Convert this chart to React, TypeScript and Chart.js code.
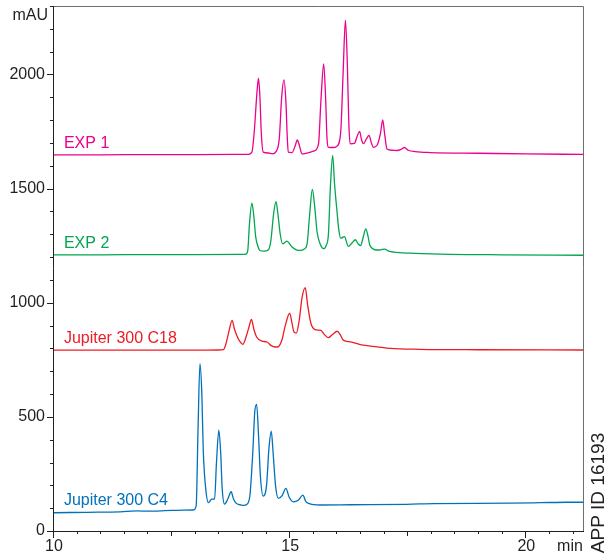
import React, { useEffect, useRef } from "react";
import { Chart, registerables } from "chart.js";

Chart.register(...registerables);

// ---- axis ticks ----
const xTickValues = [10, 15, 20];
const xTickLabels = ["10", "15", "20"];
const yTickValues = [0, 500, 1000, 1500, 2000];
const yTickLabels = ["0", "500", "1000", "1500", "2000"];
const xUnit = "min";
const yUnit = "mAU";
const sideNote = "APP ID 16193";

// ---- traces ----
const traceNames = ["EXP 1", "EXP 2", "Jupiter 300 C18", "Jupiter 300 C4"];
const traceColors = ["#ec008c", "#00a651", "#ed1c24", "#0072bc"];

const exp1Times = [10, 11, 12, 13, 14.11, 14.19, 14.24, 14.3, 14.33, 14.36, 14.39, 14.43, 14.54, 14.62, 14.7, 14.77, 14.82, 14.87, 14.91, 14.94, 14.96, 15.04, 15.11, 15.15, 15.2, 15.25, 15.32, 15.42, 15.51, 15.6, 15.65, 15.71, 15.75, 15.78, 15.81, 15.91, 15.99, 16.07, 16.12, 16.17, 16.21, 16.24, 16.27, 16.36, 16.42, 16.47, 16.51, 16.55, 16.62, 16.67, 16.72, 16.76, 16.84, 16.91, 16.96, 17.0, 17.05, 17.16, 17.26, 17.35, 17.42, 17.5, 17.65, 17.97, 19, 20, 21.2];
const exp1Values = [1648, 1648, 1649, 1649, 1650, 1660, 1750, 1930, 1984, 1900, 1740, 1660, 1656, 1652, 1662, 1720, 1900, 1976, 1880, 1720, 1660, 1658, 1690, 1713, 1685, 1652, 1654, 1659, 1665, 1696, 1880, 2046, 1900, 1720, 1681, 1680, 1686, 1747, 2000, 2238, 2050, 1800, 1696, 1698, 1730, 1751, 1715, 1697, 1720, 1733, 1700, 1681, 1690, 1740, 1801, 1740, 1674, 1668, 1667, 1672, 1680, 1668, 1662, 1658, 1655, 1652, 1650];

const exp2Times = [10, 11, 12, 13, 14.05, 14.1, 14.14, 14.19, 14.23, 14.27, 14.32, 14.36, 14.44, 14.54, 14.59, 14.65, 14.7, 14.74, 14.79, 14.84, 14.93, 15.04, 15.13, 15.21, 15.3, 15.36, 15.41, 15.47, 15.52, 15.57, 15.64, 15.71, 15.76, 15.81, 15.85, 15.9, 15.94, 15.99, 16.03, 16.07, 16.15, 16.23, 16.31, 16.38, 16.44, 16.49, 16.55, 16.6, 16.65, 16.69, 16.84, 16.92, 17.0, 17.09, 17.19, 17.54, 18.18, 19.5, 21.2];
const exp2Values = [1210, 1210, 1211, 1211, 1212, 1225, 1350, 1436, 1380, 1290, 1245, 1229, 1226, 1232, 1270, 1390, 1443, 1390, 1300, 1258, 1270, 1244, 1232, 1229, 1235, 1260, 1380, 1496, 1420, 1310, 1255, 1237, 1250, 1300, 1500, 1645, 1520, 1404, 1320, 1283, 1290, 1247, 1262, 1276, 1258, 1250, 1290, 1324, 1290, 1250, 1231, 1232, 1235, 1226, 1222, 1217, 1213, 1210, 1208];

const c18Times = [10, 11, 12, 13, 13.47, 13.59, 13.64, 13.71, 13.77, 13.82, 13.87, 13.93, 14.0, 14.08, 14.13, 14.18, 14.23, 14.29, 14.4, 14.51, 14.6, 14.68, 14.75, 14.83, 14.89, 14.99, 15.04, 15.08, 15.13, 15.19, 15.25, 15.32, 15.37, 15.44, 15.53, 15.59, 15.65, 15.73, 15.81, 15.89, 16.0, 16.06, 16.13, 16.27, 16.4, 16.55, 16.84, 17.12, 17.75, 19, 21.2];
const c18Values = [792, 792, 792, 792, 793, 795, 820, 880, 923, 885, 857, 832, 818, 860, 895, 927, 885, 850, 832, 828, 812, 806, 808, 840, 894, 954, 910, 872, 867, 920, 1020, 1066, 990, 909, 882, 880, 879, 860, 847, 860, 875, 860, 835, 829, 822, 814, 807, 800, 796, 794, 793];

const c4Times = [10, 10.7, 11.4, 11.75, 12.03, 12.5, 12.95, 13.01, 13.05, 13.09, 13.13, 13.16, 13.21, 13.27, 13.34, 13.4, 13.44, 13.49, 13.53, 13.56, 13.61, 13.68, 13.75, 13.8, 13.86, 13.94, 14.01, 14.09, 14.15, 14.21, 14.25, 14.29, 14.33, 14.37, 14.43, 14.5, 14.55, 14.6, 14.64, 14.69, 14.75, 14.83, 14.91, 14.98, 15.07, 15.17, 15.27, 15.33, 15.39, 15.64, 16.27, 17.47, 18.03, 19.66, 20.3, 20.86, 21.2];
const c4Values = [80, 82, 84, 88, 87, 90, 92, 110, 450, 733, 600, 354, 190, 124, 140, 140, 300, 442, 340, 190, 118, 140, 172, 140, 121, 115, 112, 118, 160, 350, 520, 555, 420, 240, 153, 200, 360, 437, 340, 200, 143, 155, 187, 148, 128, 135, 157, 130, 121, 114, 115, 117, 120, 122, 124, 126, 126];

const traceTimes = [exp1Times, exp2Times, c18Times, c4Times];
const traceValues = [exp1Values, exp2Values, c18Values, c4Values];

// ---- axis range ----
const xMin = 10;
const xMax = 21.2;
const yMin = 0;
const yMax = 2300;

const FONT = "'Liberation Sans', Arial, Helvetica, sans-serif";
const isMult = (v: number, m: number) => Math.abs(v / m - Math.round(v / m)) < 1e-6;

const decorPlugin = {
  id: "decor",
  afterDraw(chart: any) {
    const { ctx, chartArea, scales } = chart;
    const xs = scales.x;
    const ys = scales.y;
    const { left, right, top, bottom } = chartArea;
    ctx.save();
    // frame (top and right)
    ctx.strokeStyle = "#6d6e71";
    ctx.lineWidth = 1;
    ctx.beginPath();
    ctx.moveTo(left, top + 0.5);
    ctx.lineTo(right + 0.5, top + 0.5);
    ctx.lineTo(right + 0.5, bottom);
    ctx.stroke();
    // axis lines
    ctx.strokeStyle = "#231f20";
    ctx.beginPath();
    ctx.moveTo(left - 0.5, top);
    ctx.lineTo(left - 0.5, bottom + 0.5);
    ctx.lineTo(right + 1, bottom + 0.5);
    ctx.stroke();
    // tick marks
    ctx.beginPath();
    xs.ticks.forEach((t: any, i: number) => {
      const px = Math.round(xs.getPixelForTick(i)) - 0.5;
      const len = isMult(t.value, 5) ? 7 : isMult(t.value, 2.5) ? 5 : 3;
      ctx.moveTo(px, bottom);
      ctx.lineTo(px, bottom + len);
    });
    ys.ticks.forEach((t: any, i: number) => {
      const py = Math.round(ys.getPixelForTick(i)) + 0.5;
      const len = isMult(t.value, 500) ? 7 : 4;
      ctx.moveTo(left, py);
      ctx.lineTo(left - len, py);
    });
    ctx.stroke();
    // unit labels
    ctx.fillStyle = "#231f20";
    ctx.font = `16px ${FONT}`;
    ctx.textAlign = "right";
    ctx.textBaseline = "alphabetic";
    ctx.fillText(yUnit, left - 6, top + 14);
    ctx.textAlign = "center";
    ctx.fillText(xUnit, right - 13, bottom + 20);
    // trace labels
    const labelY = [1648, 1210, 792, 82];
    ctx.textAlign = "left";
    traceNames.forEach((name, i) => {
      const yBase = ys.getPixelForValue(labelY[i]);
      ctx.fillStyle = traceColors[i];
      ctx.fillText(name, xs.getPixelForValue(10.21), yBase - 7);
    });
    // side note
    ctx.fillStyle = "#231f20";
    ctx.font = `19px ${FONT}`;
    ctx.translate(right + 16, bottom - 38);
    ctx.rotate(-Math.PI / 2);
    ctx.textAlign = "center";
    ctx.textBaseline = "middle";
    ctx.fillText(sideNote, 0, 0);
    ctx.restore();
  },
};

export default function App() {
  const ref = useRef<HTMLCanvasElement>(null);
  useEffect(() => {
    const canvas = ref.current;
    if (!canvas) return;
    const datasets = traceNames.map((name, i) => ({
      label: name,
      data: traceTimes[i].map((t, j) => ({ x: t, y: traceValues[i][j] })),
      borderColor: traceColors[i],
      borderWidth: 1.3,
      pointRadius: 0,
      fill: false,
      cubicInterpolationMode: "monotone" as const,
    }));
    const chart = new Chart(canvas, {
      type: "line",
      data: { datasets },
      plugins: [decorPlugin],
      options: {
        animation: false,
        responsive: false,
        devicePixelRatio: 1,
        layout: { padding: { top: 6, right: 24, left: 0, bottom: 0 } },
        plugins: { legend: { display: false }, tooltip: { enabled: false } },
        scales: {
          x: {
            type: "linear",
            min: xMin,
            max: xMax,
            grid: { display: false, drawTicks: false },
            border: { display: false },
            afterFit: (s: any) => {
              s.height = 23;
              s.paddingLeft = 0;
              s.paddingRight = 0;
            },
            ticks: {
              stepSize: 0.5,
              includeBounds: false,
              autoSkip: false,
              maxRotation: 0,
              padding: 6,
              color: "#231f20",
              font: { family: FONT, size: 16 },
              callback: (v: any) => {
                const k = xTickValues.findIndex((x) => Math.abs(x - Number(v)) < 1e-6);
                return k >= 0 ? xTickLabels[k] : "";
              },
            },
          },
          y: {
            type: "linear",
            min: yMin,
            max: yMax,
            grid: { display: false, drawTicks: false },
            border: { display: false },
            afterFit: (s: any) => {
              s.width = 54;
              s.paddingTop = 0;
              s.paddingBottom = 0;
            },
            ticks: {
              stepSize: 100,
              includeBounds: false,
              autoSkip: false,
              padding: 9,
              color: "#231f20",
              font: { family: FONT, size: 16 },
              callback: (v: any) => {
                const k = yTickValues.findIndex((y) => Math.abs(y - Number(v)) < 1e-6);
                return k >= 0 ? yTickLabels[k] : "";
              },
            },
          },
        },
      },
    });
    return () => chart.destroy();
  }, []);
  return (
    <div style={{ position: "absolute", left: 0, top: 0, width: 607, height: 554, background: "#fff" }}>
      <canvas ref={ref} width={607} height={554} style={{ display: "block", width: 607, height: 554 }} />
    </div>
  );
}
